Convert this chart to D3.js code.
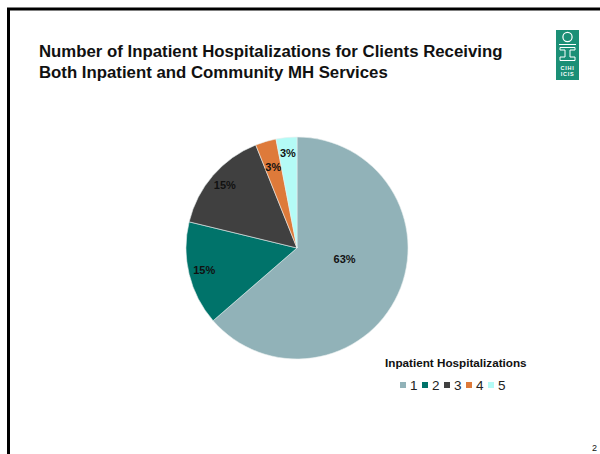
<!DOCTYPE html>
<html>
<head>
<meta charset="utf-8">
<script src="https://cdn.jsdelivr.net/npm/d3@7"></script>
<style>
  html, body { margin: 0; padding: 0; background: #fff; }
  svg { display: block; font-family: Arial, "Liberation Sans", sans-serif; }
</style>
</head>
<body>
<div id="chart"></div>
<script>
// chart data
var categories = ['1', '2', '3', '4', '5'];
var values     = [63, 15, 15, 3, 3];
var labels     = ['63%', '15%', '15%', '3%', '3%'];
var colors     = ['#91b2b8', '#00736a', '#404040', '#de7a3a', '#b4fbf6'];
var titleLines = ['Number of Inpatient Hospitalizations for Clients Receiving',
                  'Both Inpatient and Community MH Services'];
var legendTitle = 'Inpatient Hospitalizations';

var w = 600, h = 454;
var svg = d3.select('#chart').append('svg').attr('width', w).attr('height', h);
svg.append('rect').attr('width', w).attr('height', h).attr('fill', '#fff');

// slide frame (top + left rule)
svg.append('line').attr('x1', 7).attr('x2', w).attr('y1', 9).attr('y2', 9)
    .attr('stroke', '#000').attr('stroke-width', 3);
svg.append('line').attr('x1', 8.5).attr('x2', 8.5).attr('y1', 8).attr('y2', h)
    .attr('stroke', '#000').attr('stroke-width', 3);

// title
svg.append('g').selectAll('text').data(titleLines).join('text')
    .attr('x', 39).attr('y', function(d, i){ return 57 + i * 20.5; })
    .attr('font-size', '16.8px').attr('font-weight', 'bold').attr('fill', '#111')
    .text(function(d){ return d; });

// logo
var logo = svg.append('g').attr('transform', 'translate(556,30)');
logo.append('rect').attr('width', 23).attr('height', 50).attr('fill', '#1b8f76');
logo.append('circle').attr('cx', 11.5).attr('cy', 7).attr('r', 4.6)
    .attr('fill', 'none').attr('stroke', '#fff').attr('stroke-width', 1.2);
logo.append('path')
    .attr('d', 'M3,14.5 H20 M4,17.5 H19 V20 H14 V27 H19 V30.5 H4 V27 H9 V20 H4 Z')
    .attr('fill', 'none').attr('stroke', '#fff').attr('stroke-width', 1);
logo.selectAll('text.logo').data(['CIHI', 'ICIS']).join('text').attr('class', 'logo')
    .attr('x', 11.5).attr('y', function(d, i){ return 40 + i * 6; })
    .attr('text-anchor', 'middle').attr('font-size', '5.5px').attr('font-weight', 'bold')
    .attr('fill', '#fff').attr('letter-spacing', '0.7px')
    .text(function(d){ return d; });

// pie
var cx = 297, cy = 248, r = 111;
var pie = d3.pie().sort(null).value(function(d){ return d; });
var arcs = pie(values);
var arc = d3.arc().innerRadius(0).outerRadius(r);
var g = svg.append('g').attr('transform', 'translate(' + cx + ',' + cy + ')');
g.selectAll('path').data(arcs).join('path')
    .attr('d', arc)
    .attr('fill', function(d, i){ return colors[i]; })
    .attr('stroke', '#e8eeee').attr('stroke-width', 0.6);

g.selectAll('text').data(arcs).join('text')
    .attr('transform', function(d, i){
        var rr = i === 0 ? r * 0.44 : (i === 3 ? r * 0.76 : r * 0.86);
        var a = (d.startAngle + d.endAngle) / 2;
        if (i === 0) a -= 0.2;
        return 'translate(' + (Math.sin(a) * rr) + ',' + (-Math.cos(a) * rr) + ')';
    })
    .attr('text-anchor', 'middle').attr('dy', '0.35em')
    .attr('font-size', '11px').attr('font-weight', 'bold').attr('fill', '#111')
    .text(function(d, i){ return labels[i]; });

// legend
svg.append('text').attr('x', 385).attr('y', 367)
    .attr('font-size', '11.7px').attr('font-weight', 'bold').attr('fill', '#111')
    .text(legendTitle);
var x = d3.scalePoint().domain(categories).range([400, 488]);
var item = svg.append('g').selectAll('g').data(categories).join('g')
    .attr('transform', function(d){ return 'translate(' + x(d) + ',382)'; });
item.append('rect').attr('width', 6).attr('height', 6)
    .attr('fill', function(d, i){ return colors[i]; });
item.append('text').attr('x', 10).attr('y', 7.8)
    .attr('font-size', '13.5px').attr('fill', '#222')
    .text(function(d){ return d; });

// page number
svg.append('text').attr('x', 592).attr('y', 451)
    .attr('font-size', '9px').attr('fill', '#111').text('2');
</script>
</body>
</html>
